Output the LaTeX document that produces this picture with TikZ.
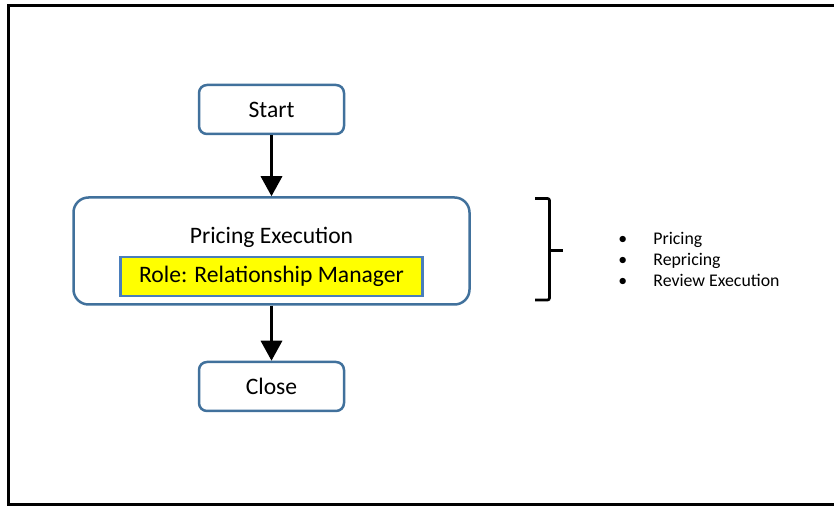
\documentclass[tikz,border=0pt]{standalone}
\usepackage{fontspec}
\setmainfont{Carlito}
\usetikzlibrary{arrows.meta, positioning}
\definecolor{flowblue}{RGB}{65, 113, 156}
\definecolor{roleblue}{RGB}{74, 126, 187}
\definecolor{roleyellow}{RGB}{255, 255, 0}
\tikzset{
  stepbox/.style={
    rectangle, rounded corners=4pt,
    draw=flowblue, line width=1.25pt, fill=white,
    minimum width=72.5pt, minimum height=24.5pt,
    inner sep=0pt, font=\fontsize{11.8pt}{14pt}\selectfont
  },
  phasebox/.style={
    rectangle, rounded corners=7.5pt,
    draw=flowblue, line width=1.25pt, fill=white,
    minimum width=198pt, minimum height=53.5pt, inner sep=0pt
  },
  rolebox/.style={
    rectangle, draw=roleblue, line width=1.25pt, fill=roleyellow,
    minimum width=151pt, minimum height=19.5pt,
    inner sep=0pt, font=\fontsize{11.8pt}{14pt}\selectfont
  },
  txt/.style={font=\fontsize{11.8pt}{14pt}\selectfont, inner sep=0pt},
  itemtxt/.style={font=\fontsize{8.9pt}{10.5pt}\selectfont, inner sep=0pt, anchor=base west},
  arr/.style={-{Triangle[length=10pt, width=10.5pt]}, line width=1.65pt, black},
  frame/.style={line width=1.35pt, black, line join=miter},
  brack/.style={line width=1.35pt, black, rounded corners=1pt},
}
\begin{document}
\begin{tikzpicture}[x=0.5pt, y=-0.5pt]
  \useasboundingbox (0,0) rectangle (834,506);
  % outer frame, open on the right
  \draw[frame] (834,5.5) -- (8.2,5.5) -- (8.2,504.7) -- (834,504.7);

  \node[stepbox] (start) at (271.5,109.5) {Start};
  \node[phasebox, below=30.5pt of start] (price) {};
  \node[stepbox, below=27.5pt of price] (close) {Close};
  \node[txt, anchor=base] (ptitle) at (271.5,244) {Pricing Execution};
  \node[rolebox] (role) at (271.5,276.5) {Role: Relationship Manager};
  \draw[arr] (start) -- (price);
  \draw[arr] (price) -- (close);

  % bracket and activities
  \coordinate (btop) at (535,198.5);
  \coordinate (bbot) at (535,300);
  \coordinate (btick) at (562.5,250.5);
  \draw[brack] (btop) -- (549.5,198.5) -- (549.5,300) -- (bbot);
  \draw[line width=1.35pt] (549.5,250.5) -- (btick);
  \node[itemtxt] (b1) at (618,245) {•};
  \node[itemtxt] (b2) at (618,266) {•};
  \node[itemtxt] (b3) at (618,287) {•};
  \node[itemtxt] (i1) at (653,245) {Pricing};
  \node[itemtxt] (i2) at (653,266) {Repricing};
  \node[itemtxt] (i3) at (653,287) {Review Execution};
\end{tikzpicture}
\end{document}
